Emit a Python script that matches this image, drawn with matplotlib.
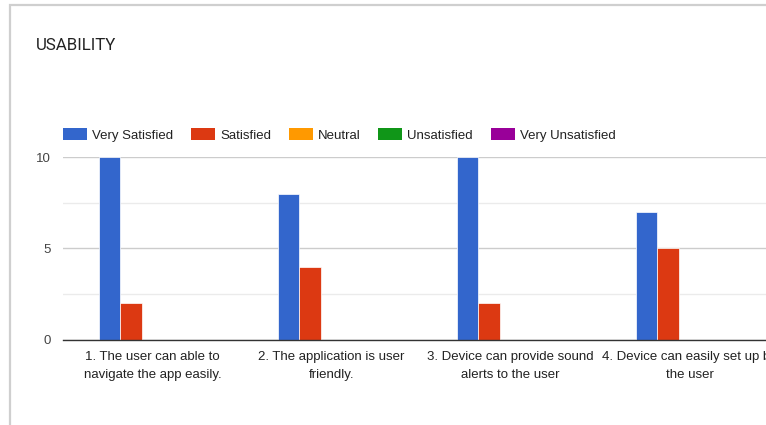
import matplotlib.pyplot as plt
import numpy as np
from matplotlib.patches import Rectangle, Patch

plt.rcParams['font.family'] = ['Liberation Sans', 'DejaVu Sans']

TITLE = "USABILITY"
questions = [
    "1. The user can able to\nnavigate the app easily.",
    "2. The application is user\nfriendly.",
    "3. Device can provide sound\nalerts to the user",
    "4. Device can easily set up by\nthe user",
]
series_names = ["Very Satisfied", "Satisfied", "Neutral", "Unsatisfied", "Very Unsatisfied"]
series_colors = ["#3366cc", "#dc3912", "#ff9900", "#109618", "#990099"]
very_satisfied = [10, 8, 10, 7]
satisfied = [2, 4, 2, 5]
neutral = [0, 0, 0, 0]
unsatisfied = [0, 0, 0, 0]
very_unsatisfied = [0, 0, 0, 0]
yticks = [0, 5, 10]

W, H = 766, 425
fig = plt.figure(figsize=(W / 100, H / 100), dpi=100)

# card frame (left and top edges visible, rest cropped)
fig.patches.append(Rectangle((10 / W, -0.1), 1.2, 1 - 5 / H + 0.1,
                             transform=fig.transFigure, fill=False,
                             ec="#cfcfcf", lw=1.6, clip_on=False))

fig.text(36 / W, 1 - 46 / H, TITLE, ha="left", va="center",
         fontsize=12.2, color="#222222", family="Roboto")

# plot area: left at x=63, 0 at y=339, 10 at y=157, runs past the right edge
left, right = 63, 779
top, bottom = 157, 339.5
ax = fig.add_axes([left / W, 1 - bottom / H, (right - left) / W, (bottom - top) / H])

values = [very_satisfied, satisfied, neutral, unsatisfied, very_unsatisfied]
x = np.arange(len(questions))
bw = 0.12
for k, (vals, col) in enumerate(zip(values, series_colors)):
    ax.bar(x + (k - 2.5) * bw, vals, bw, align="edge", color=col,
           edgecolor="white", linewidth=0.5, zorder=3)

ax.set_xlim(-0.5, len(questions) - 0.5)
ax.set_ylim(0, 10)
ax.set_yticks(yticks)
ax.set_yticks([2.5, 7.5], minor=True)
ax.grid(axis="y", which="major", color="#cccccc", lw=1, zorder=0)
ax.grid(axis="y", which="minor", color="#ebebeb", lw=1, zorder=0)
ax.set_xticks(x)
ax.set_xticklabels(questions, fontsize=9.5, color="#222222", linespacing=1.7)
ax.tick_params(axis="x", length=0, pad=8)
ax.tick_params(axis="y", which="both", length=0, pad=9, labelsize=9.5, labelcolor="#444444")
for s in ["top", "right", "left"]:
    ax.spines[s].set_visible(False)
ax.spines["bottom"].set_color("#333333")
ax.spines["bottom"].set_linewidth(1)
ax.spines["bottom"].set_zorder(4)

handles = [Patch(facecolor=c, edgecolor="none") for c in series_colors]
fig.legend(handles, series_names, loc="center left",
           bbox_to_anchor=(63 / W, 1 - 135 / H), ncol=5, frameon=False,
           fontsize=9.5, handlelength=1.8, handleheight=1.0,
           handletextpad=0.4, columnspacing=1.35, labelcolor="#222222",
           borderaxespad=0, borderpad=0)

fig.savefig("out.png", dpi=100)
